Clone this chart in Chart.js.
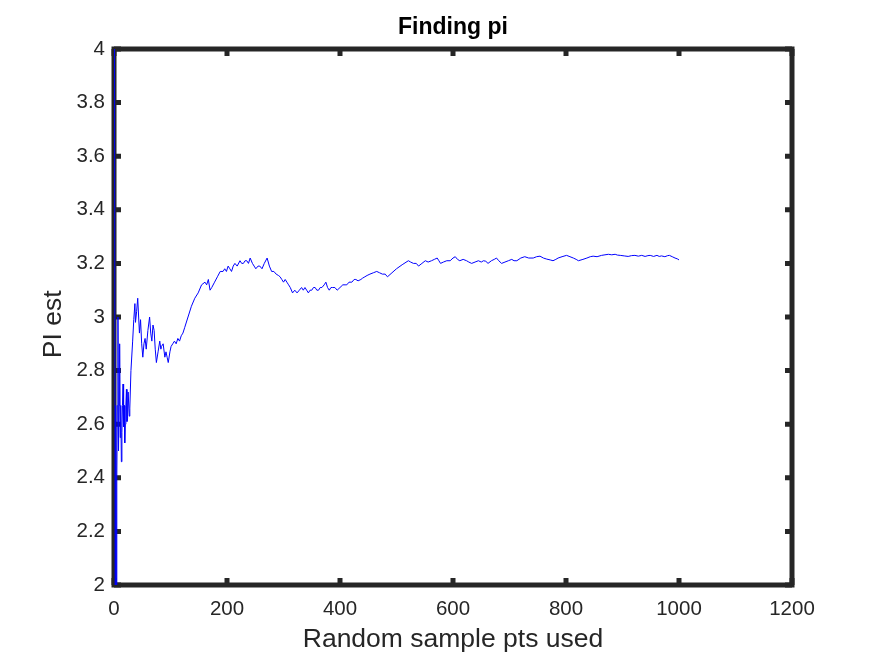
<!DOCTYPE html>
<html lang="en">
  <head>
    <meta charset="utf-8">
    <title>Finding pi</title>
    <script src="https://cdn.jsdelivr.net/npm/chart.js@4.4.1/dist/chart.umd.min.js"></script>
    <style>
      html, body { margin: 0; padding: 0; background: #fff; }
      #wrap { width: 875px; height: 656px; }
    </style>
  </head>
  <body>
    <div id="wrap"><canvas id="chart" width="875" height="656"></canvas></div>

    <script>
    // samples used (x) and running pi estimate (y)
    const sampleN = [
      1, 2, 3, 4, 5, 6, 7, 8, 9, 10, 11, 12, 13, 14, 15, 16, 17, 18, 19, 20,
      21, 22, 23, 24, 25, 26, 27, 28, 30, 33, 35, 37, 38, 40, 42, 45, 47, 49, 51, 53,
      55, 57, 60, 63, 65, 67, 69, 71, 73, 75, 78, 81, 83, 84, 87, 90, 92, 94, 96, 99,
      101, 104, 107, 110, 113, 116, 119, 122, 125, 131, 137, 143, 149, 155, 161, 164, 167, 170, 173, 178,
      183, 188, 193, 196, 199, 202, 205, 208, 211, 214, 218, 223, 226, 229, 232, 235, 238, 241, 245, 248,
      251, 255, 258, 262, 266, 271, 275, 279, 283, 287, 291, 294, 297, 300, 303, 306, 309, 312, 316, 320,
      324, 328, 332, 335, 338, 341, 344, 347, 350, 353, 356, 359, 362, 365, 368, 372, 375, 378, 381, 384,
      387, 391, 395, 400, 405, 409, 412, 416, 421, 425, 428, 432, 437, 440, 444, 448, 453, 459, 465, 470,
      475, 480, 484, 492, 500, 510, 521, 525, 530, 535, 539, 545, 551, 556, 562, 567, 572, 575, 578, 583,
      589, 595, 600, 604, 608, 612, 618, 624, 628, 633, 639, 645, 650, 654, 658, 662, 668, 673, 677, 681,
      686, 692, 698, 704, 708, 713, 720, 727, 734, 742, 748, 754, 760, 766, 772, 777, 782, 786, 793, 801,
      807, 813, 818, 822, 830, 837, 843, 848, 855, 863, 869, 875, 881, 887, 891, 896, 903, 910, 916, 922,
      928, 934, 940, 945, 949, 955, 961, 965, 969, 975, 980, 983, 988, 993, 997, 1000
    ];
    const piEst = [
      4, 2, 2.67, 2, 2.4, 2.67, 3.0, 2.5, 2.67, 2.9, 2.55, 2.67, 2.46, 2.57, 2.67, 2.75, 2.59, 2.67, 2.53, 2.6,
      2.67, 2.73, 2.61, 2.62, 2.72, 2.72, 2.63, 2.66, 2.8, 2.91, 2.99, 3.05, 2.98, 3.02, 3.07, 2.94, 2.99, 2.9, 2.85, 2.9,
      2.92, 2.88, 2.95, 3.0, 2.94, 2.91, 2.97, 2.95, 2.88, 2.83, 2.87, 2.91, 2.88, 2.89, 2.9, 2.85, 2.87, 2.85, 2.83, 2.87,
      2.89, 2.9, 2.91, 2.9, 2.92, 2.91, 2.93, 2.94, 2.96, 3.0, 3.04, 3.07, 3.09, 3.12, 3.13, 3.12, 3.14, 3.1, 3.11, 3.13,
      3.15, 3.17, 3.17, 3.18, 3.17, 3.19, 3.18, 3.17, 3.19, 3.2, 3.19, 3.21, 3.2, 3.2, 3.21, 3.21, 3.2, 3.22, 3.2, 3.19,
      3.18, 3.19, 3.19, 3.18, 3.2, 3.22, 3.19, 3.17, 3.17, 3.16, 3.155, 3.15, 3.14, 3.13, 3.14, 3.13, 3.12, 3.11, 3.09, 3.1,
      3.09, 3.1, 3.11, 3.1, 3.11, 3.1, 3.09, 3.1, 3.1, 3.11, 3.11, 3.1, 3.1, 3.11, 3.11, 3.12, 3.13, 3.11, 3.1, 3.11,
      3.11, 3.11, 3.1, 3.11, 3.12, 3.12, 3.12, 3.13, 3.13, 3.14, 3.14, 3.135, 3.14, 3.145, 3.15, 3.155, 3.16, 3.165, 3.17, 3.165,
      3.16, 3.16, 3.15, 3.165, 3.18, 3.195, 3.21, 3.205, 3.2, 3.2, 3.19, 3.2, 3.21, 3.205, 3.21, 3.215, 3.22, 3.21, 3.2, 3.205,
      3.21, 3.21, 3.22, 3.225, 3.215, 3.21, 3.215, 3.21, 3.205, 3.2, 3.205, 3.21, 3.205, 3.21, 3.208, 3.2, 3.21, 3.215, 3.22, 3.21,
      3.2, 3.205, 3.21, 3.215, 3.21, 3.21, 3.22, 3.225, 3.22, 3.22, 3.225, 3.227, 3.22, 3.216, 3.213, 3.21, 3.215, 3.22, 3.225, 3.23,
      3.225, 3.22, 3.215, 3.21, 3.215, 3.22, 3.225, 3.227, 3.225, 3.23, 3.232, 3.234, 3.232, 3.234, 3.231, 3.23, 3.228, 3.226, 3.229, 3.23,
      3.227, 3.23, 3.226, 3.229, 3.23, 3.226, 3.23, 3.226, 3.228, 3.225, 3.229, 3.23, 3.225, 3.22, 3.217, 3.213
    ];

    // tick labels
    const xTicks = [0, 200, 400, 600, 800, 1000, 1200];
    const yTicks = [2, 2.2, 2.4, 2.6, 2.8, 3, 3.2, 3.4, 3.6, 3.8, 4];

    const axisColor = '#262626';
    const fontFamily = 'Liberation Sans, Arial, sans-serif';

    // matlab style box with inward ticks on all four sides
    const boxPlugin = {
      id: 'box',
      beforeDatasetsDraw(chart) {
        const {ctx, chartArea: a, scales: {x, y}} = chart;
        ctx.save();
        ctx.strokeStyle = axisColor;
        ctx.lineWidth = 5;
        ctx.strokeRect(a.left, a.top, a.right - a.left, a.bottom - a.top);
        ctx.beginPath();
        xTicks.forEach(v => {
          const px = x.getPixelForValue(v);
          ctx.moveTo(px, a.bottom); ctx.lineTo(px, a.bottom - 7);
          ctx.moveTo(px, a.top); ctx.lineTo(px, a.top + 7);
        });
        yTicks.forEach(v => {
          const py = y.getPixelForValue(v);
          ctx.moveTo(a.left, py); ctx.lineTo(a.left + 7, py);
          ctx.moveTo(a.right, py); ctx.lineTo(a.right - 7, py);
        });
        ctx.stroke();
        ctx.restore();
      }
    };

    const points = sampleN.map((n, i) => ({x: n, y: piEst[i]}));

    const ctx = document.getElementById('chart').getContext('2d');
    const myChart = new Chart(ctx, {
      type: 'line',
      data: {
        datasets: [{
          data: points,
          borderColor: '#0000ff',
          borderWidth: 1,
          pointRadius: 0,
          tension: 0,
          fill: false
        }]
      },
      options: {
        responsive: false,
        animation: false,
        layout: { padding: { left: 0, top: 0, right: 83, bottom: 0 } },
        plugins: {
          legend: { display: false },
          tooltip: { enabled: false },
          title: {
            display: true,
            text: 'Finding pi',
            fullSize: false,
            color: '#000',
            font: { family: fontFamily, size: 23, weight: 'bold' },
            padding: { top: 14.2, bottom: 7.2 }
          }
        },
        scales: {
          x: {
            type: 'linear',
            min: 0,
            max: 1200,
            grid: { display: false, drawTicks: false },
            border: { display: false },
            afterFit: s => { s.height = 71; },
            afterBuildTicks: s => { s.ticks = xTicks.map(v => ({value: v})); },
            ticks: {
              color: axisColor,
              padding: 12.5,
              maxRotation: 0,
              font: { family: fontFamily, size: 20.5 },
              callback: v => String(v)
            },
            title: {
              display: true,
              text: 'Random sample pts used',
              color: axisColor,
              font: { family: fontFamily, size: 26.5 },
              padding: { top: 0, bottom: 0 }
            }
          },
          y: {
            min: 2,
            max: 4,
            grid: { display: false, drawTicks: false },
            border: { display: false },
            afterFit: s => { s.width = 114; },
            afterBuildTicks: s => { s.ticks = yTicks.map(v => ({value: v})); },
            ticks: {
              color: axisColor,
              padding: 9,
              font: { family: fontFamily, size: 20.5 },
              callback: v => String(v)
            },
            title: {
              display: true,
              // trailing spaces nudge the rotated label a bit lower, like the original
              text: 'PI est  ',
              color: axisColor,
              font: { family: fontFamily, size: 26.5 },
              padding: { top: 38, bottom: 0 }
            }
          }
        }
      },
      plugins: [boxPlugin]
    });
    </script>
  </body>
</html>
